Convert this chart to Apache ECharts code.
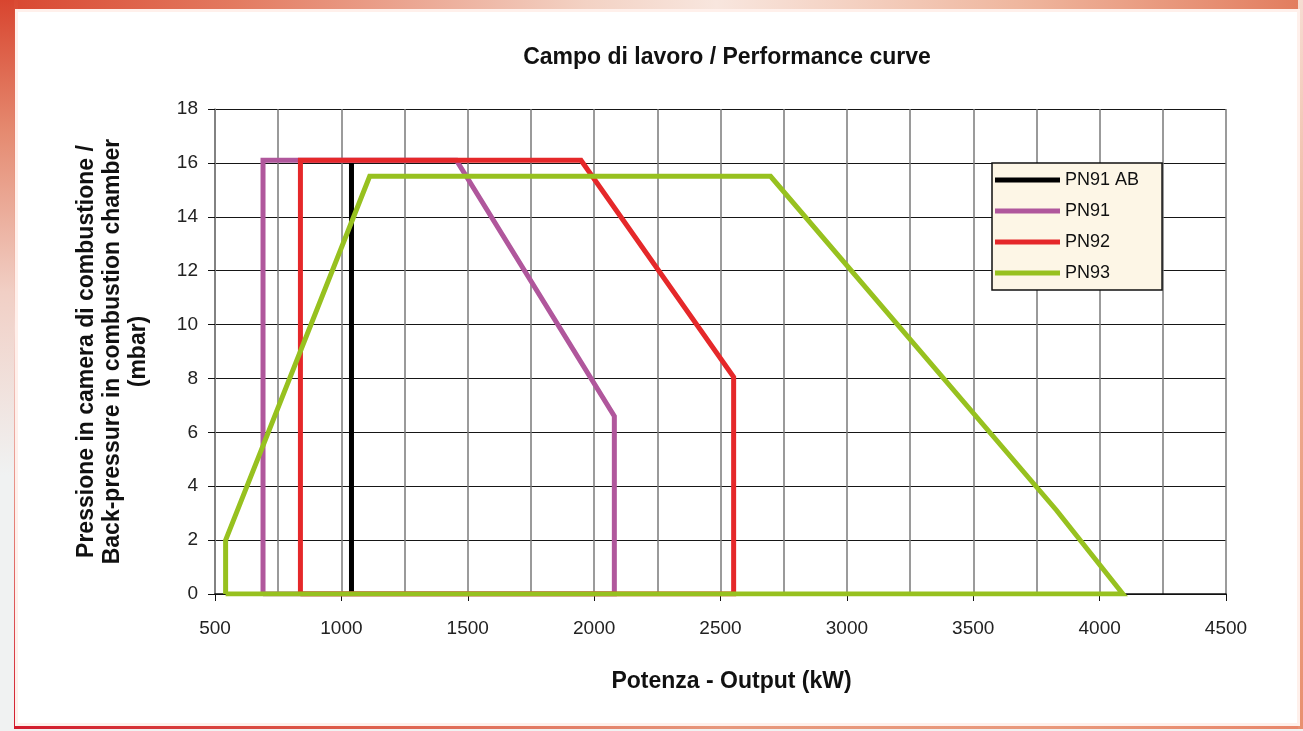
<!DOCTYPE html>
<html>
<head>
<meta charset="utf-8">
<script src="https://cdn.jsdelivr.net/npm/echarts@6/dist/echarts.min.js"></script>
<style>
  html, body { margin: 0; padding: 0; }
  .page { position: relative; width: 1303px; height: 731px; background: #f0f2f2; overflow: hidden; }
  /* cornice rossa */
  .frame { position: absolute; left: 14px; top: 0; width: 1289px; height: 729px;
    background: linear-gradient(to right, #d21a2c 0%, #dd5a48 25%, #e7977c 55%, #e9987b 80%, #e8866a 100%); }
  .frame-top { position: absolute; left: 0; top: 0; width: 1303px; height: 11px;
    background: linear-gradient(to right, #d8452f 0%, #e37a60 18%, #f3d2c4 45%, #f8e6de 55%, #efb79f 78%, #e27c5e 100%); }
  .frame-left-out { position: absolute; left: 0; top: 0; width: 14px; height: 731px;
    background: linear-gradient(to bottom, #d8452f 0%, #e58a70 18%, #f1cfc5 40%, #f0f2f2 65%); }
  .frame-left { position: absolute; left: 14px; top: 0; width: 4px; height: 729px;
    background: linear-gradient(to bottom, #da4a33 0%, #e89a84 25%, #f3d7d0 45%, #e6867c 70%, #d21a2c 100%); }
  .frame-right { position: absolute; right: 0; top: 0; width: 5px; height: 729px;
    background: linear-gradient(to bottom, #f6ddd2 0%, #eeb096 40%, #e8906f 100%); }
  .inner { position: absolute; left: 15px; top: 9px; width: 1285px; height: 717px;
    box-sizing: border-box; border: 3px solid rgba(255, 235, 228, 0.75); background: #fff; }
  #chart { position: absolute; left: 0; top: 0; width: 1303px; height: 731px; }
</style>
</head>
<body>
<div class="page">
  <div class="frame"></div>
  <div class="frame-top"></div>
  <div class="frame-left-out"></div>
  <div class="frame-left"></div>
  <div class="frame-right"></div>
  <div class="inner"></div>
  <div id="chart"></div>
</div>
<script>
// Campo di lavoro: punti [potenza kW, pressione mbar]
const pn91ab = [[1040, 0], [1040, 16]];
const pn91 = [[690, 0], [690, 16.1], [1455, 16.1], [2080, 6.6], [2080, 0], [690, 0]];
const pn92 = [[838, 0], [838, 16.1], [1948, 16.1], [2552, 8.05], [2552, 0], [838, 0]];
const pn93 = [[542, 0], [542, 2], [1112, 15.5], [2698, 15.5], [3830, 3.1], [4092, 0], [542, 0]];

const seriesNames = ['PN91 AB', 'PN91', 'PN92', 'PN93'];
const seriesColors = ['#000000', '#b0579c', '#e5282a', '#97c11f'];
const seriesData = [pn91ab, pn91, pn92, pn93];

const FONT = '"Liberation Sans", Arial, sans-serif';

const chart = echarts.init(document.getElementById('chart'));

chart.setOption({
  animation: false,
  backgroundColor: 'transparent',
  title: {
    text: 'Campo di lavoro / Performance curve',
    left: 722,
    top: 41,
    textAlign: 'center',
    textStyle: { fontFamily: FONT, fontSize: 23, fontWeight: 'bold', color: '#111' }
  },
  legend: {
    orient: 'vertical',
    left: 992,
    top: 163,
    icon: 'rect',
    itemWidth: 65,
    itemHeight: 5,
    itemGap: 11,
    padding: [7, 23, 7, 3],
    backgroundColor: '#fdf6e6',
    borderColor: '#111',
    borderWidth: 1.5,
    borderRadius: 0,
    textStyle: { fontFamily: FONT, fontSize: 18, color: '#111', lineHeight: 20 },
    data: seriesNames
  },
  grid: { left: 215, right: 77, top: 109, bottom: 137, containLabel: false },
  xAxis: {
    type: 'value',
    min: 500,
    max: 4500,
    interval: 500,
    name: 'Potenza - Output (kW)',
    nameLocation: 'middle',
    nameGap: 76,
    nameTextStyle: { fontFamily: FONT, fontSize: 23, fontWeight: 'bold', color: '#111', padding: [0, 0, 0, 22] },
    axisLine: { show: true, lineStyle: { color: '#111', width: 1.5 } },
    axisTick: { show: true, length: 7, lineStyle: { color: '#111' } },
    axisLabel: { fontFamily: FONT, fontSize: 19, color: '#222', margin: 25, formatter: (v) => String(v) },
    splitLine: { show: true, lineStyle: { color: '#7a7a7a', width: 1.5 } },
    minorTick: { show: false, splitNumber: 2 },
    minorSplitLine: { show: true, lineStyle: { color: '#7a7a7a', width: 1.5 } }
  },
  yAxis: {
    type: 'value',
    min: 0,
    max: 18,
    interval: 2,
    name: 'Pressione in camera di combustione /\nBack-pressure in combustion chamber\n(mbar)',
    nameLocation: 'middle',
    nameRotate: 90,
    nameGap: 63,
    nameTextStyle: { fontFamily: FONT, fontSize: 23, fontWeight: 'bold', color: '#111', lineHeight: 26 },
    axisLine: { show: true, lineStyle: { color: '#7a7a7a', width: 1.5 } },
    axisTick: { show: true, length: 7, lineStyle: { color: '#111' } },
    axisLabel: { fontFamily: FONT, fontSize: 19, color: '#222', margin: 17 },
    splitLine: { show: true, lineStyle: { color: '#161616', width: 1 } }
  },
  series: seriesNames.map((name, i) => ({
    name: name,
    type: 'line',
    data: seriesData[i],
    symbol: 'none',
    color: seriesColors[i],
    lineStyle: { color: seriesColors[i], width: 5, join: 'miter' },
    z: 2 + i
  }))
});
</script>
</body>
</html>
